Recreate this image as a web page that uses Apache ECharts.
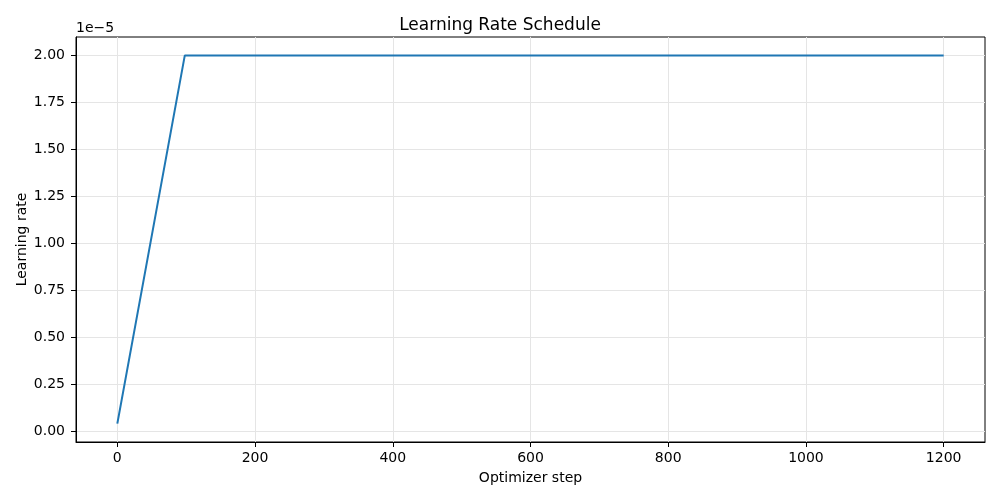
<!DOCTYPE html>
<html>
<head>
<meta charset="utf-8">
<script src="https://cdn.jsdelivr.net/npm/echarts@6/dist/echarts.min.js"></script>
<style>
  html, body { margin: 0; padding: 0; background: #fff; }
  #chart { width: 1000px; height: 500px; }
</style>
</head>
<body>
<div id="chart"></div>
<script>
// schedule points
var steps = [0, 98, 1200];
var learningRates = [0.04e-5, 2.0e-5, 2.0e-5];
var xTicks = [0, 200, 400, 600, 800, 1000, 1200];
var yTicks = [0, 0.25e-5, 0.5e-5, 0.75e-5, 1.0e-5, 1.25e-5, 1.5e-5, 1.75e-5, 2.0e-5];

var font = 'DejaVu Sans';
var gridColor = '#e5e5e5';

var data = [];
for (var i = 0; i < steps.length; i++) {
  data.push([steps[i], learningRates[i]]);
}

var chart = echarts.init(document.getElementById('chart'));
chart.setOption({
  animation: false,
  title: {
    text: 'Learning Rate Schedule',
    left: 'center',
    top: 12,
    textStyle: { fontFamily: font, fontSize: 17, fontWeight: 'normal', color: '#000' }
  },
  grid: {
    left: 76, right: 15, top: 37, bottom: 58,
    show: true, borderColor: '#000', borderWidth: 1
  },
  xAxis: {
    type: 'value',
    min: -60,
    max: 1260,
    name: 'Optimizer step',
    nameLocation: 'middle',
    nameGap: 29,
    nameTextStyle: { fontFamily: font, fontSize: 14, color: '#000' },
    axisLine: { show: true, onZero: false, lineStyle: { color: '#000' } },
    axisTick: { show: true, length: 5, inside: false, customValues: xTicks, lineStyle: { color: '#000' } },
    axisLabel: {
      customValues: xTicks, margin: 9,
      fontFamily: font, fontSize: 14, color: '#000',
      formatter: function (v) { return String(v); }
    },
    splitLine: { show: true, lineStyle: { color: gridColor, width: 1 } }
  },
  yAxis: {
    type: 'value',
    min: -0.058e-5,
    max: 2.098e-5,
    name: 'Learning rate',
    nameLocation: 'middle',
    nameGap: 47,
    nameMoveOverlap: false,
    nameTextStyle: { fontFamily: font, fontSize: 14, color: '#000' },
    axisLine: { show: true, onZero: false, lineStyle: { color: '#000' } },
    axisTick: { show: true, length: 5, inside: false, customValues: yTicks, lineStyle: { color: '#000' } },
    axisLabel: {
      customValues: yTicks, margin: 11,
      fontFamily: font, fontSize: 14, color: '#000',
      formatter: function (v) { return (v * 1e5).toFixed(2); }
    },
    splitLine: { show: true, lineStyle: { color: gridColor, width: 1 } }
  },
  graphic: [{
    type: 'text',
    left: 76,
    top: 21,
    style: { text: '1e\u22125', fontFamily: font, fontSize: 14, fill: '#000' }
  }],
  series: [{
    type: 'line',
    data: data,
    showSymbol: false,
    lineStyle: { color: '#1f77b4', width: 2 },
    itemStyle: { color: '#1f77b4' }
  }]
});
</script>
</body>
</html>
